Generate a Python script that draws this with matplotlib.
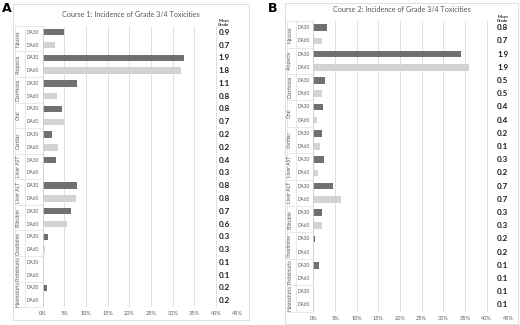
import matplotlib
matplotlib.use('Agg')
import matplotlib.pyplot as plt
import matplotlib.transforms as mtransforms
from matplotlib.lines import Line2D
from matplotlib.patches import Rectangle

groups = ['Nausea', 'Alopecia', 'Diarrhoea', 'Oral', 'Cardiac', 'Liver AST',
          'Liver ALT', 'Bilirubin', 'Creatinine', 'Proteinuria', 'Haematuria']
doses = ['DA30', 'DA60']
c1_da30 = [4.8, 32.6, 7.8, 4.5, 2.2, 3.0, 7.8, 6.6, 1.2, 0.0, 0.9]
c1_da60 = [2.8, 31.9, 3.4, 4.9, 3.6, 0.3, 7.6, 5.6, 0.45, 0.15, 0.4]
c1_grade = ['0.9', '0.7', '1.9', '1.8', '1.1', '0.8', '0.8', '0.7', '0.2', '0.2', '0.4',
            '0.3', '0.8', '0.8', '0.7', '0.6', '0.3', '0.3', '0.1', '0.1', '0.2', '0.2']
c2_da30 = [3.1, 34.1, 2.8, 2.2, 1.9, 2.5, 4.5, 2.1, 0.5, 1.2, 0.0]
c2_da60 = [2.1, 35.9, 2.1, 0.8, 1.5, 1.1, 6.3, 2.1, 0.2, 0.0, 0.0]
c2_grade = ['0.8', '0.7', '1.9', '1.9', '0.5', '0.5', '0.4', '0.4', '0.2', '0.1', '0.3',
            '0.2', '0.7', '0.7', '0.3', '0.3', '0.2', '0.2', '0.1', '0.1', '0.1', '0.1']
xticks = [0, 5, 10, 15, 20, 25, 30, 35, 40, 45]
titles = ['Course 1: Incidence of Grade 3/4 Toxicities',
          'Course 2: Incidence of Grade 3/4 Toxicities']

W, H = 520, 325
plt.rcParams['font.family'] = ['Lato', 'DejaVu Sans']
fig = plt.figure(figsize=(W / 100, H / 100), dpi=100)

DARK = '#707070'
LIGHT = '#d3d3d3'
GRID = '#d9d9d9'
TXT = '#595959'


def fx(px):
    return px / W


def fy(py):
    return 1 - py / H


def panel(letter, letter_xy, frame, axbox, title, title_xy, d30, d60, grades,
          grade_x, header_y, grp_x, dose_x, sep_x):
    fl, ft, fr, fb = frame
    fig.add_artist(Rectangle((fx(fl), fy(fb)), fx(fr) - fx(fl), fy(ft) - fy(fb),
                             transform=fig.transFigure, facecolor='white',
                             edgecolor='#d9d9d9', linewidth=0.6, zorder=-5))
    fig.text(fx(letter_xy[0]), fy(letter_xy[1]), letter, fontsize=9, fontweight='bold',
             family='DejaVu Sans', ha='left', va='center')
    fig.text(fx(title_xy[0]), fy(title_xy[1]), title, fontsize=5.2, color=TXT,
             ha='center', va='center')
    l, t, r, b = axbox
    ax = fig.add_axes([fx(l), fy(b), fx(r) - fx(l), fy(t) - fy(b)])
    ax.set_facecolor('none')
    n = len(groups)
    pos30 = [2 * i for i in range(n)]
    pos60 = [2 * i + 1 for i in range(n)]
    ax.barh(pos30, d30, height=0.5, color=DARK, zorder=3)
    ax.barh(pos60, d60, height=0.5, color=LIGHT, zorder=3)
    ax.set_xlim(0, 45)
    ax.set_ylim(2 * n - 0.5, -0.5)
    ax.set_xticks(xticks)
    ax.set_xticklabels([f'{v}%' for v in xticks], fontsize=4.0, color=TXT)
    ax.tick_params(axis='x', length=0, pad=3)
    ax.set_yticks([])
    ax.grid(axis='x', color=GRID, linewidth=0.6, zorder=0)
    for s in ax.spines.values():
        s.set_visible(False)
    tr = mtransforms.blended_transform_factory(fig.transFigure, ax.transData)
    ax.axvline(0, color='#d0d0d0', linewidth=0.6, zorder=4)
    for i in range(n):
        fig.text(fx(grp_x), 2 * i + 0.5, groups[i], rotation=90, fontsize=3.6,
                 color=TXT, ha='center', va='center', transform=tr)
        for k in range(2):
            fig.text(fx(dose_x), 2 * i + k, doses[k], fontsize=3.4, color=TXT,
                     ha='center', va='center', transform=tr)
    for i in range(n + 1):
        fig.add_artist(Line2D([fx(fl + 2), fx(l)], [2 * i - 0.5, 2 * i - 0.5],
                              transform=tr, color='#e0e0e0', linewidth=0.5))
    fig.add_artist(Line2D([fx(sep_x), fx(sep_x)], [-0.5, 2 * n - 0.5],
                          transform=tr, color='#e0e0e0', linewidth=0.5))
    fig.add_artist(Line2D([fx(fl + 2), fx(fl + 2)], [-0.5, 2 * n - 0.5],
                          transform=tr, color='#e0e0e0', linewidth=0.5))
    for j, g in enumerate(grades):
        fig.text(fx(grade_x), j, g, fontsize=5.8, fontweight='bold', color='#1a1a1a',
                 ha='center', va='center', transform=tr)
    fig.text(fx(grade_x), fy(header_y), 'Mean\nGrade', fontsize=3.0, fontweight='bold',
             color='#1a1a1a', ha='center', va='center', linespacing=1.0)
    return ax


panel('A', (2, 8), (13, 4, 249, 320), (42.7, 25.9, 237.7, 307.1), titles[0], (131, 14.5),
      c1_da30, c1_da60, c1_grade, 224, 23, 18.5, 33, 25)
panel('B', (268, 9), (285, 3, 518, 324), (313.3, 21.1, 508.3, 311.6), titles[1], (401.7, 10),
      c2_da30, c2_da60, c2_grade, 502.7, 18.5, 289.5, 303.3, 295.5)

fig.savefig('out.png', dpi=100)
